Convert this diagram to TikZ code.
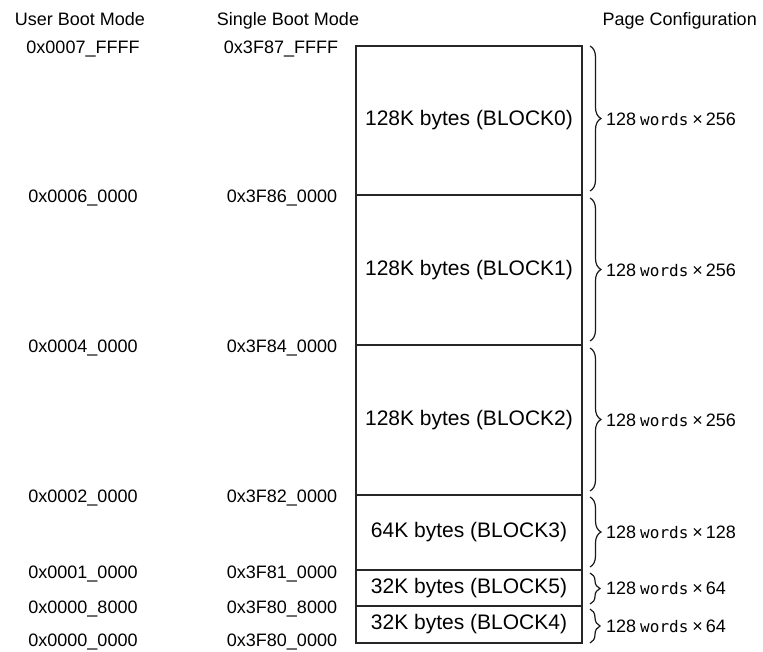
\documentclass[tikz,border=0pt]{standalone}
\usepackage{fontspec}
\setmainfont{Liberation Sans}
\newfontfamily\monof{DejaVu Sans Mono}
\usetikzlibrary{decorations.pathreplacing}
\newcommand{\pgtext}[1]{{\fontsize{18}{20}\selectfont 128}\hspace{4pt}{\monof\fontsize{16}{18}\selectfont words}\hspace{4pt}{\fontsize{18}{20}\selectfont ×\hspace{3pt}#1}}
\begin{document}
\begin{tikzpicture}[x=1pt,y=-1pt,
  blk/.style={draw=black!85, line width=1.5pt, minimum width=226pt, anchor=north west,
    inner sep=0pt, outer sep=0pt, font=\fontsize{21}{24}\selectfont},
  addr/.style={anchor=base, inner sep=0pt, font=\fontsize{18}{20}\selectfont},
  hdr/.style={anchor=base, inner sep=0pt, font=\fontsize{18}{20}\selectfont},
  brc/.style={decorate, decoration={brace, amplitude=11pt}, line width=1.2pt, draw=black!90},
  pg/.style={anchor=west, inner sep=0pt}]
\useasboundingbox (0,0) rectangle (763,651);

% headers
\node[hdr] (h1) at (80,25) {User Boot Mode};
\node[hdr] (h2) at (288,25) {Single Boot Mode};
\node[hdr, anchor=base east] (h3) at (757,25) {Page Configuration};

% blocks
\node[blk, minimum height=149pt] (b0) at (356,46) {128K bytes (BLOCK0)};
\node[blk, minimum height=150pt] (b1) at (356,195) {128K bytes (BLOCK1)};
\node[blk, minimum height=150pt] (b2) at (356,345) {128K bytes (BLOCK2)};
\node[blk, minimum height=75pt] (b3) at (356,495) {64K bytes (BLOCK3)};
\node[blk, minimum height=36pt] (b5) at (356,570) {32K bytes (BLOCK5)};
\node[blk, minimum height=37pt] (b4) at (356,606) {32K bytes (BLOCK4)};

% addresses
\node[addr] (u0) at (83,53.5) {0x0007\_FFFF};
\node[addr] (s0) at (281,53.5) {0x3F87\_FFFF};
\node[addr] (u1) at (83,202.5) {0x0006\_0000};
\node[addr] (s1) at (282,202.5) {0x3F86\_0000};
\node[addr] (u2) at (83,352.5) {0x0004\_0000};
\node[addr] (s2) at (282,352.5) {0x3F84\_0000};
\node[addr] (u3) at (83,502.5) {0x0002\_0000};
\node[addr] (s3) at (282,502.5) {0x3F82\_0000};
\node[addr] (u4) at (83,578.5) {0x0001\_0000};
\node[addr] (s4) at (282,578.5) {0x3F81\_0000};
\node[addr] (u5) at (83,613.5) {0x0000\_8000};
\node[addr] (s5) at (282,613.5) {0x3F80\_8000};
\node[addr] (u6) at (83,646) {0x0000\_0000};
\node[addr] (s6) at (282,646) {0x3F80\_0000};

% braces
\coordinate (c0a) at (590,46);  \coordinate (c0b) at (590,191);
\coordinate (c1a) at (590,198); \coordinate (c1b) at (590,341);
\coordinate (c2a) at (590,348); \coordinate (c2b) at (590,491);
\coordinate (c3a) at (590,497); \coordinate (c3b) at (590,567);
\coordinate (c5a) at (590,573); \coordinate (c5b) at (590,604);
\coordinate (c4a) at (590,609); \coordinate (c4b) at (590,643);
\draw[brc] (c0a) -- (c0b);
\draw[brc] (c1a) -- (c1b);
\draw[brc] (c2a) -- (c2b);
\draw[brc] (c3a) -- (c3b);
\draw[brc, decoration={amplitude=10pt}] (c5a) -- (c5b);
\draw[brc, decoration={amplitude=10pt}] (c4a) -- (c4b);

% page configuration
\node[pg] (p0) at (606,119) {\pgtext{256}};
\node[pg] (p1) at (606,270) {\pgtext{256}};
\node[pg] (p2) at (606,420) {\pgtext{256}};
\node[pg] (p3) at (606,532) {\pgtext{128}};
\node[pg] (p5) at (606,588) {\pgtext{64}};
\node[pg] (p4) at (606,626) {\pgtext{64}};
\end{tikzpicture}
\end{document}
